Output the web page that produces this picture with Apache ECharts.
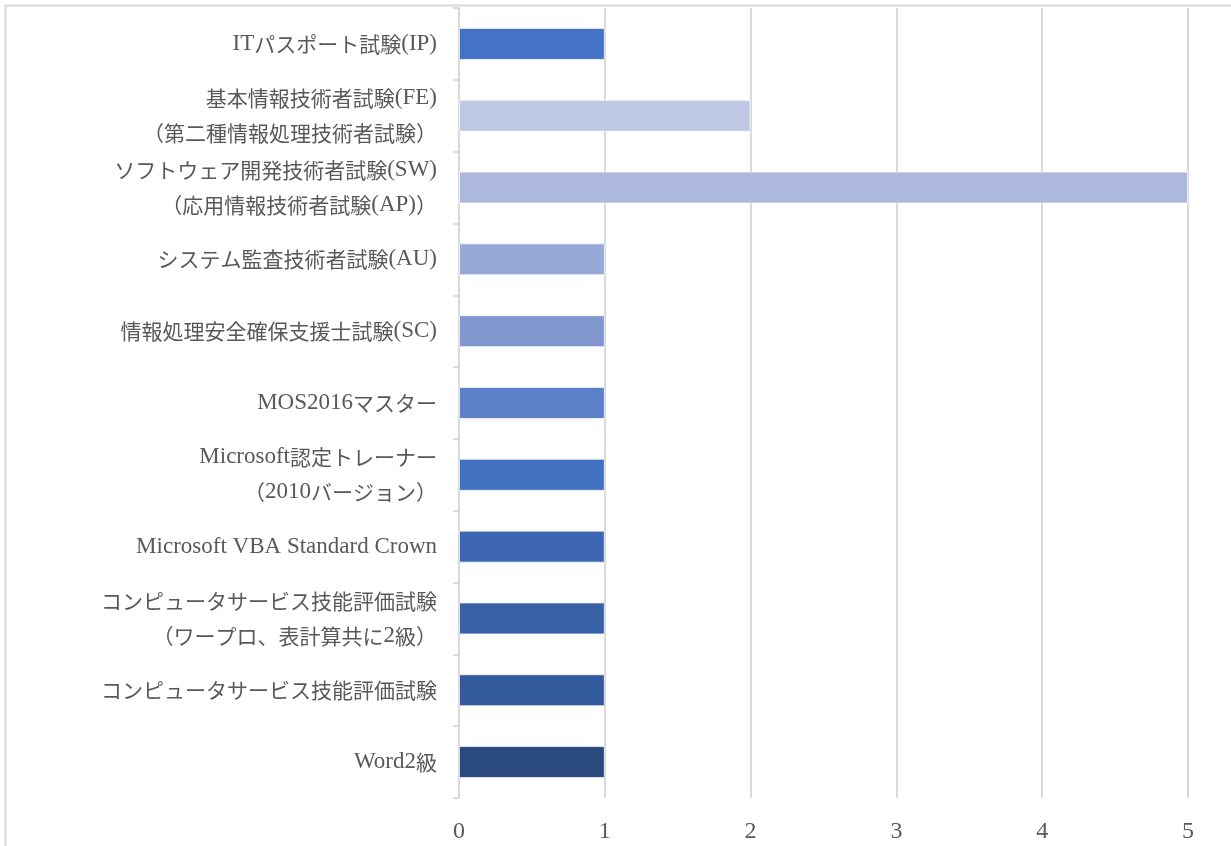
<!DOCTYPE html>
<html>
<head>
<meta charset="utf-8">
<script src="https://cdn.jsdelivr.net/npm/echarts@6/dist/echarts.min.js"></script>
<style>
html,body{margin:0;padding:0;background:#fff;}
#chart{width:1231px;height:846px;}
</style>
</head>
<body>
<div id="chart"></div>
<script>
// categories listed bottom -> top (as the category axis draws them)
const categories = [
  'Word2級',
  'コンピュータサービス技能評価試験',
  'コンピュータサービス技能評価試験\n（ワープロ、表計算共に2級）',
  'Microsoft VBA Standard Crown',
  'Microsoft認定トレーナー\n（2010バージョン）',
  'MOS2016マスター',
  '情報処理安全確保支援士試験(SC)',
  'システム監査技術者試験(AU)',
  'ソフトウェア開発技術者試験(SW)\n（応用情報技術者試験(AP)）',
  '基本情報技術者試験(FE)\n（第二種情報処理技術者試験）',
  'ITパスポート試験(IP)'
];
const values = [1, 1, 1, 1, 1, 1, 1, 1, 5, 2, 1];
const barColors = ['#2A4A7F', '#335A9C', '#3961A8', '#3D67B3', '#4270C1', '#5B7FC8', '#7F96CF', '#97A9D6', '#ACB8DC', '#BEC8E4', '#4472C4'];
const xTicks = [0, 1, 2, 3, 4, 5];

const latinFont = "'Liberation Serif', 'DejaVu Serif', serif";
const cjkFont = "'Noto Sans CJK JP', sans-serif";

function richLabel(text) {
  return text.split('\n').map(line => {
    const parts = line.match(/[\x20-\x7E]+|[^\x20-\x7E]+/g) || [];
    return parts.map(p => {
      const key = /^[\x20-\x7E]+$/.test(p) ? 'l' : 'c';
      return '{' + key + '|' + p.replace(/[{}|]/g, '') + '}';
    }).join('');
  }).join('\n');
}

const chart = echarts.init(document.getElementById('chart'));
chart.setOption({
  animation: false,
  backgroundColor: '#fff',
  grid: {left: 459, right: 43, top: 8, bottom: 48, containLabel: false},
  graphic: [{
    type: 'rect', silent: true, z: -1,
    shape: {x: 5.5, y: 5.5, width: 1240, height: 860},
    style: {fill: 'none', stroke: '#d9d9d9', lineWidth: 2}
  }],
  xAxis: {
    type: 'value', min: xTicks[0], max: xTicks[xTicks.length - 1], interval: 1,
    axisLine: {show: false}, axisTick: {show: false},
    axisLabel: {margin: 22, color: '#595959', fontSize: 24, fontFamily: latinFont},
    splitLine: {lineStyle: {color: '#d9d9d9', width: 2}}
  },
  yAxis: {
    type: 'category', data: categories,
    axisLine: {lineStyle: {color: '#d9d9d9', width: 2}},
    axisTick: {show: true, length: 6, lineStyle: {color: '#d9d9d9', width: 2}},
    axisLabel: {
      margin: 22, color: '#595959', align: 'right',
      formatter: richLabel,
      rich: {
        l: {fontSize: 23, lineHeight: 35, fontFamily: latinFont, color: '#595959'},
        c: {fontSize: 21, lineHeight: 35, fontFamily: cjkFont, color: '#595959'}
      }
    }
  },
  series: [{
    type: 'bar',
    barWidth: 32,
    data: values.map((v, i) => ({value: v, itemStyle: {color: barColors[i]}})),
    itemStyle: {borderColor: 'rgba(255,255,255,0.7)', borderWidth: 1}
  }]
});
</script>
</body>
</html>
